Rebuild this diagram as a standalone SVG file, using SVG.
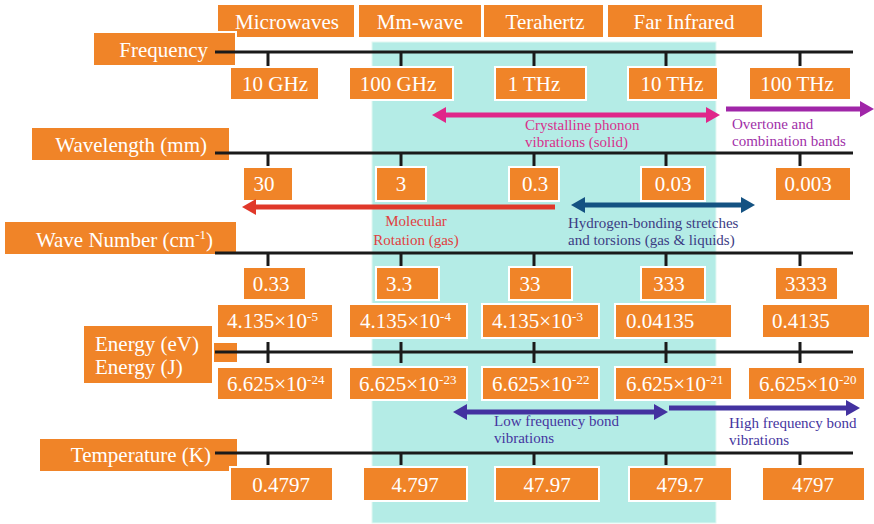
<svg xmlns="http://www.w3.org/2000/svg" width="874" height="524" viewBox="0 0 874 524">
<defs>
<style>
.box{fill:#f08428;stroke:#ffffff;stroke-width:2}
.t{font-family:"Liberation Serif","Times New Roman",serif;font-size:21px;fill:#ffffff}
.m{text-anchor:middle}
.e{text-anchor:end}
.s{font-family:"Liberation Serif","Times New Roman",serif;font-size:15px}
.ax{stroke:#1a1a1a;stroke-width:3;fill:none}
.arr{stroke-width:5;fill:none}
</style>
<marker id="hM" markerUnits="userSpaceOnUse" markerWidth="14" markerHeight="16" viewBox="0 0 14 16" refX="0" refY="8" orient="auto-start-reverse"><path d="M0,0 L14,8 L0,16 z" fill="#e0268a"/></marker>
<marker id="hP" markerUnits="userSpaceOnUse" markerWidth="14" markerHeight="16" viewBox="0 0 14 16" refX="0" refY="8" orient="auto-start-reverse"><path d="M0,0 L14,8 L0,16 z" fill="#a026a8"/></marker>
<marker id="hR" markerUnits="userSpaceOnUse" markerWidth="14" markerHeight="16" viewBox="0 0 14 16" refX="0" refY="8" orient="auto-start-reverse"><path d="M0,0 L14,8 L0,16 z" fill="#e0382a"/></marker>
<marker id="hB" markerUnits="userSpaceOnUse" markerWidth="14" markerHeight="16" viewBox="0 0 14 16" refX="0" refY="8" orient="auto-start-reverse"><path d="M0,0 L14,8 L0,16 z" fill="#145282"/></marker>
<marker id="hV" markerUnits="userSpaceOnUse" markerWidth="14" markerHeight="16" viewBox="0 0 14 16" refX="0" refY="8" orient="auto-start-reverse"><path d="M0,0 L14,8 L0,16 z" fill="#4332a0"/></marker>
</defs>
<rect width="874" height="524" fill="#ffffff"/>
<rect id="thz-band" x="372" y="42" width="344" height="481" fill="#b4ece6" stroke="#e2f8f2" stroke-width="1"/>

<g id="bands">
<g id="microwaves"><rect class="box" x="217" y="4" width="138" height="34"/><text class="t m" x="287" y="29">Microwaves</text></g>
<g id="mm-wave"><rect class="box" x="358" y="4" width="124" height="34"/><text class="t m" x="420" y="29">Mm-wave</text></g>
<g id="terahertz"><rect class="box" x="483" y="4" width="121" height="34"/><text class="t m" x="545" y="29">Terahertz</text></g>
<g id="far-infrared"><rect class="box" x="607" y="4" width="156" height="34"/><text class="t m" x="684" y="29">Far Infrared</text></g>
</g>

<g id="labels">
<g id="frequency-label"><rect class="box" x="93" y="32" width="143" height="34"/><text class="t e" x="208" y="57">Frequency</text></g>
<g id="wavelength-label"><rect class="box" x="31" y="127" width="199" height="34"/><text class="t e" x="207" y="152">Wavelength (mm)</text></g>
<g id="wavenumber-label"><rect class="box" x="4" y="221" width="233" height="34"/><text class="t e" x="213" y="247">Wave Number (cm<tspan font-size="13" dy="-8">-1</tspan><tspan dy="8">)</tspan></text></g>
<g id="energy-label"><rect class="box" x="213" y="342" width="25" height="21" stroke="none"/><rect class="box" x="83" y="325" width="130" height="59"/><text class="t" x="95" y="351">Energy (eV)</text><text class="t" x="95" y="374">Energy (J)</text></g>
<g id="temperature-label"><rect class="box" x="39" y="438" width="199" height="34"/><text class="t e" x="211" y="462">Temperature (K)</text></g>
</g>

<g id="axes">
<path class="ax" d="M215,52 H853 M268,52 V66 M401,52 V66 M534,52 V66 M666,52 V66 M800,52 V66"/>
<path class="ax" d="M215,153 H853 M268,153 V166 M401,153 V166 M534,153 V166 M666,153 V166 M800,153 V166"/>
<path class="ax" d="M215,253 H853 M268,253 V266 M401,253 V266 M534,253 V266 M666,253 V266 M800,253 V266"/>
<path class="ax" d="M215,352 H853 M268,342 V363 M401,342 V363 M534,342 V363 M666,342 V363 M800,342 V363"/>
<path class="ax" d="M215,453 H853 M268,453 V465 M401,453 V465 M534,453 V465 M666,453 V465 M800,453 V465"/>
</g>

<g id="frequency-values">
<g id="f1"><rect class="box" x="230" y="67" width="89" height="33"/><text class="t m" x="275" y="91">10 GHz</text></g>
<g id="f2"><rect class="box" x="349" y="67" width="104" height="33"/><text class="t m" x="398" y="91">100 GHz</text></g>
<g id="f3"><rect class="box" x="495" y="67" width="91" height="33"/><text class="t m" x="534" y="91">1 THz</text></g>
<g id="f4"><rect class="box" x="628" y="67" width="90" height="33"/><text class="t m" x="672" y="91">10 THz</text></g>
<g id="f5"><rect class="box" x="749" y="67" width="102" height="33"/><text class="t m" x="797" y="91">100 THz</text></g>
</g>

<g id="wavelength-values">
<g id="w1"><rect class="box" x="243" y="167" width="50" height="34"/><text class="t m" x="264" y="191">30</text></g>
<g id="w2"><rect class="box" x="376" y="167" width="50" height="34"/><text class="t m" x="401" y="191">3</text></g>
<g id="w3"><rect class="box" x="509" y="167" width="50" height="34"/><text class="t m" x="535" y="191">0.3</text></g>
<g id="w4"><rect class="box" x="641" y="167" width="64" height="34"/><text class="t m" x="673" y="191">0.03</text></g>
<g id="w5"><rect class="box" x="775" y="167" width="76" height="34"/><text class="t m" x="808" y="191">0.003</text></g>
</g>

<g id="wavenumber-values">
<g id="n1"><rect class="box" x="243" y="267" width="63" height="33"/><text class="t m" x="271" y="291">0.33</text></g>
<g id="n2"><rect class="box" x="376" y="267" width="63" height="33"/><text class="t m" x="399" y="291">3.3</text></g>
<g id="n3"><rect class="box" x="509" y="267" width="63" height="33"/><text class="t m" x="530" y="291">33</text></g>
<g id="n4"><rect class="box" x="641" y="267" width="64" height="33"/><text class="t m" x="669" y="291">333</text></g>
<g id="n5"><rect class="box" x="775" y="267" width="63" height="33"/><text class="t m" x="806" y="291">3333</text></g>
</g>

<g id="energy-ev-values">
<g id="ev1"><rect class="box" x="217" y="304" width="116" height="34"/><text class="t" x="227" y="328">4.135×10<tspan font-size="13" dy="-7">-5</tspan></text></g>
<g id="ev2"><rect class="box" x="349" y="304" width="118" height="34"/><text class="t" x="360" y="328">4.135×10<tspan font-size="13" dy="-7">-4</tspan></text></g>
<g id="ev3"><rect class="box" x="482" y="304" width="117" height="34"/><text class="t" x="492" y="328">4.135×10<tspan font-size="13" dy="-7">-3</tspan></text></g>
<g id="ev4"><rect class="box" x="615" y="304" width="117" height="34"/><text class="t" x="626" y="328">0.04135</text></g>
<g id="ev5"><rect class="box" x="762" y="304" width="108" height="34"/><text class="t" x="772" y="328">0.4135</text></g>
</g>

<g id="energy-j-values">
<g id="j1"><rect class="box" x="217" y="367" width="116" height="33"/><text class="t" x="227" y="391">6.625×10<tspan font-size="13" dy="-7">-24</tspan></text></g>
<g id="j2"><rect class="box" x="349" y="367" width="118" height="33"/><text class="t" x="359" y="391">6.625×10<tspan font-size="13" dy="-7">-23</tspan></text></g>
<g id="j3"><rect class="box" x="482" y="367" width="117" height="33"/><text class="t" x="492" y="391">6.625×10<tspan font-size="13" dy="-7">-22</tspan></text></g>
<g id="j4"><rect class="box" x="615" y="367" width="117" height="33"/><text class="t" x="626" y="391">6.625×10<tspan font-size="13" dy="-7">-21</tspan></text></g>
<g id="j5"><rect class="box" x="748" y="367" width="117" height="33"/><text class="t" x="759" y="391">6.625×10<tspan font-size="13" dy="-7">-20</tspan></text></g>
</g>

<g id="temperature-values">
<g id="k1"><rect class="box" x="230" y="467" width="103" height="34"/><text class="t m" x="281" y="492">0.4797</text></g>
<g id="k2"><rect class="box" x="363" y="467" width="104" height="34"/><text class="t m" x="415" y="492">4.797</text></g>
<g id="k3"><rect class="box" x="495" y="467" width="104" height="34"/><text class="t m" x="547" y="492">47.97</text></g>
<g id="k4"><rect class="box" x="629" y="467" width="103" height="34"/><text class="t m" x="680" y="492">479.7</text></g>
<g id="k5"><rect class="box" x="762" y="467" width="103" height="34"/><text class="t m" x="813" y="492">4797</text></g>
</g>

<g id="connectors">
<line class="arr" x1="446" y1="115" x2="706" y2="115" stroke="#e0268a" marker-start="url(#hM)" marker-end="url(#hM)"/>
<line class="arr" x1="726" y1="109" x2="860" y2="109" stroke="#a026a8" marker-end="url(#hP)"/>
<line class="arr" x1="555" y1="207" x2="256" y2="207" stroke="#e0382a" marker-end="url(#hR)"/>
<line class="arr" x1="585" y1="205" x2="741" y2="205" stroke="#145282" marker-start="url(#hB)" marker-end="url(#hB)"/>
<line class="arr" x1="467" y1="412" x2="654" y2="412" stroke="#4332a0" marker-start="url(#hV)" marker-end="url(#hV)"/>
<line class="arr" x1="669" y1="408" x2="846" y2="408" stroke="#4332a0" marker-end="url(#hV)"/>
</g>

<g id="annotations">
<text class="s" fill="#d8308c" x="525" y="130">Crystalline phonon</text>
<text class="s" fill="#d8308c" x="525" y="147">vibrations (solid)</text>
<text class="s" fill="#a030a8" x="732" y="129">Overtone and</text>
<text class="s" fill="#a030a8" x="732" y="146">combination bands</text>
<text class="s" fill="#e04040" x="416" y="226" text-anchor="middle">Molecular</text>
<text class="s" fill="#e04040" x="416" y="245" text-anchor="middle">Rotation (gas)</text>
<text class="s" fill="#3c3c84" x="568" y="228">Hydrogen-bonding stretches</text>
<text class="s" fill="#3c3c84" x="568" y="245">and torsions (gas &amp; liquids)</text>
<text class="s" fill="#4535a0" x="494" y="426">Low frequency bond</text>
<text class="s" fill="#4535a0" x="494" y="443">vibrations</text>
<text class="s" fill="#4535a0" x="729" y="428">High frequency bond</text>
<text class="s" fill="#4535a0" x="729" y="445">vibrations</text>
</g>
</svg>
